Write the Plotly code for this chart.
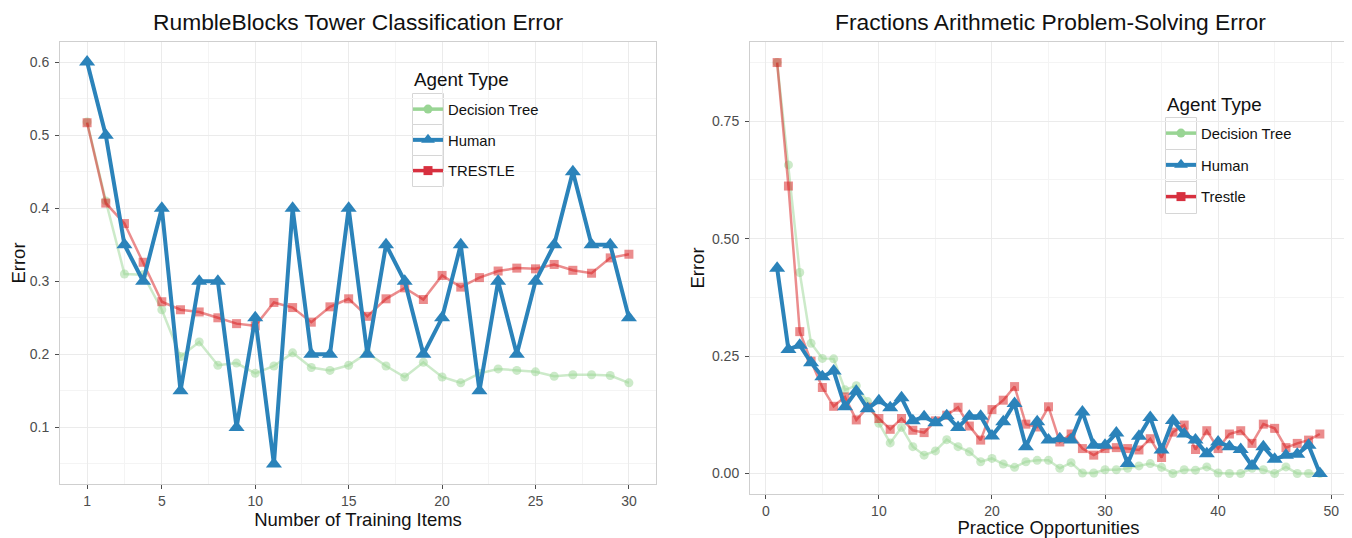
import plotly.graph_objects as go

# ---------------- data: RumbleBlocks (left) ----------------
rb_items = list(range(1, 31))
rb_decision_tree = [0.518, 0.410, 0.310, 0.309, 0.261, 0.197, 0.217, 0.185, 0.188, 0.174,
                    0.184, 0.202, 0.182, 0.178, 0.185, 0.202, 0.184, 0.169, 0.189, 0.169,
                    0.161, 0.174, 0.180, 0.178, 0.176, 0.170, 0.172, 0.172, 0.171, 0.161]
rb_human = [0.60, 0.50, 0.35, 0.30, 0.40, 0.15, 0.30, 0.30, 0.10, 0.25,
            0.05, 0.40, 0.20, 0.20, 0.40, 0.20, 0.35, 0.30, 0.20, 0.25,
            0.35, 0.15, 0.30, 0.20, 0.30, 0.35, 0.45, 0.35, 0.35, 0.25]
rb_trestle = [0.517, 0.407, 0.379, 0.326, 0.272, 0.261, 0.258, 0.250, 0.242, 0.239,
              0.271, 0.264, 0.244, 0.265, 0.276, 0.252, 0.276, 0.291, 0.275, 0.308,
              0.292, 0.305, 0.314, 0.318, 0.317, 0.323, 0.315, 0.311, 0.332, 0.337]

# ---------------- data: Fractions (right) ----------------
fr_opps = list(range(1, 50))
fr_decision_tree = [0.875, 0.657, 0.428, 0.277, 0.245, 0.244, 0.178, 0.187, 0.153, 0.107,
                    0.065, 0.098, 0.057, 0.039, 0.048, 0.072, 0.057, 0.046, 0.025, 0.032,
                    0.020, 0.013, 0.025, 0.028, 0.028, 0.011, 0.023, 0.001, 0.001, 0.008,
                    0.008, 0.011, 0.016, 0.021, 0.013, 0.000, 0.008, 0.007, 0.014, 0.001,
                    0.000, 0.000, 0.011, 0.008, 0.000, 0.014, 0.000, 0.000, 0.000]
fr_human = [0.437, 0.264, 0.273, 0.236, 0.206, 0.218, 0.142, 0.175, 0.138, 0.155,
            0.140, 0.161, 0.112, 0.121, 0.108, 0.123, 0.098, 0.122, 0.122, 0.080,
            0.110, 0.149, 0.057, 0.110, 0.071, 0.074, 0.071, 0.131, 0.060, 0.060,
            0.086, 0.021, 0.079, 0.119, 0.050, 0.113, 0.084, 0.071, 0.042, 0.067,
            0.057, 0.051, 0.016, 0.057, 0.030, 0.039, 0.041, 0.060, 0.000]
fr_trestle = [0.875, 0.612, 0.302, 0.239, 0.183, 0.143, 0.163, 0.114, 0.141, 0.117,
              0.094, 0.117, 0.092, 0.087, 0.112, 0.124, 0.141, 0.101, 0.071, 0.136,
              0.156, 0.185, 0.105, 0.099, 0.142, 0.067, 0.084, 0.053, 0.039, 0.053,
              0.055, 0.053, 0.050, 0.074, 0.034, 0.088, 0.103, 0.051, 0.091, 0.053,
              0.084, 0.091, 0.064, 0.105, 0.096, 0.055, 0.064, 0.071, 0.084]

# ---------------- ticks / labels ----------------
left_xticks = [1, 5, 10, 15, 20, 25, 30]
left_xminor = [3, 7.5, 12.5, 17.5, 22.5, 27.5]
left_yticks = [0.1, 0.2, 0.3, 0.4, 0.5, 0.6]
left_yminor = [0.05, 0.15, 0.25, 0.35, 0.45, 0.55]
right_xticks = [0, 10, 20, 30, 40, 50]
right_xminor = [5, 15, 25, 35, 45]
right_yticks = [0.0, 0.25, 0.5, 0.75]
right_yminor = [0.125, 0.375, 0.625, 0.875]

left_names = ["Decision Tree", "Human", "TRESTLE"]
right_names = ["Decision Tree", "Human", "Trestle"]
legend_title = "Agent Type"
left_title = "RumbleBlocks Tower Classification Error"
right_title = "Fractions Arithmetic Problem-Solving Error"

# ---------------- styles ----------------
PAGE_W, PAGE_H = 1352, 538
OFF = 8  # default page margin around the plot div
W, H = PAGE_W - OFF, PAGE_H - OFF
FONT = "Liberation Sans, Arial, Helvetica, sans-serif"
BLUE = "#2b83ba"
RED_A = "rgba(215,25,28,0.5)"
GREEN_A = "rgba(153,213,148,0.5)"
RED = "#d7303f"
GREEN = "#99d594"
GRID = "#ebebeb"
MINOR = "#f4f4f4"
BORDER = "#cfcfcf"
KEYBOX = "#d6d6d6"
TXT = "#111111"


def px_x(p):
    return (p - OFF) / W


def px_y(p):
    return 1 - (p - OFF) / H


fig = go.Figure()


def add_series(x, y, color, symbol, msize, lwidth, xa, ya):
    fig.add_trace(go.Scatter(
        x=x, y=y, mode="lines+markers", xaxis=xa, yaxis=ya, showlegend=False,
        line=dict(color=color, width=lwidth),
        marker=dict(color=color, symbol=symbol, size=msize, line=dict(width=0)),
        hoverinfo="skip"))


# left panel
add_series(rb_items, rb_decision_tree, GREEN_A, "circle", 9, 2.5, "x", "y")
add_series(rb_items, rb_trestle, RED_A, "square", 9, 2.5, "x", "y")
add_series(rb_items, rb_human, BLUE, "triangle-up", 14, 4, "x", "y")
# right panel
add_series(fr_opps, fr_decision_tree, GREEN_A, "circle", 9, 2.5, "x2", "y2")
add_series(fr_opps, fr_trestle, RED_A, "square", 9, 2.5, "x2", "y2")
add_series(fr_opps, fr_human, BLUE, "triangle-up", 14, 4, "x2", "y2")

# legend entries (full-opacity keys like ggplot)
key_styles = [(GREEN, "circle", 9, 3.5), (BLUE, "triangle-up", 12, 4), (RED, "square", 9, 3.5)]
for names, lg, xa, ya in [(left_names, "legend", "x", "y"), (right_names, "legend2", "x2", "y2")]:
    for i, (nm, (c, s, ms, lw)) in enumerate(zip(names, key_styles)):
        fig.add_trace(go.Scatter(
            x=[None], y=[None], name=nm, mode="lines+markers", legend=lg,
            legendgroup=lg + str(i), xaxis=xa, yaxis=ya,
            line=dict(color=c, width=lw), marker=dict(color=c, symbol=s, size=ms)))


def axis_common():
    return dict(showline=True, linecolor=BORDER, linewidth=1, mirror=True,
                showgrid=True, gridcolor=GRID, gridwidth=1, zeroline=False,
                automargin=False,
                ticks="outside", ticklen=4, tickcolor="#4d4d4d", tickwidth=1,
                tickfont=dict(family=FONT, size=14, color="#4d4d4d"))


TITLE_FONT = dict(family=FONT, size=18.5, color=TXT)

xa1 = axis_common()
xa1.update(domain=[px_x(60), px_x(656)], range=[-0.45, 31.45], tickmode="array",
           tickvals=left_xticks, anchor="y",
           minor=dict(tickmode="array", tickvals=left_xminor, showgrid=True,
                      gridcolor=MINOR, ticks=""),
           title=dict(text="Number of Training Items", standoff=4, font=TITLE_FONT))
ya1 = axis_common()
ya1.update(domain=[px_y(484), px_y(42)], range=[0.0225, 0.6275], tickmode="array",
           tickvals=left_yticks, tickformat=".1f", anchor="x", ticklabelstandoff=3,
           minor=dict(tickmode="array", tickvals=left_yminor, showgrid=True,
                      gridcolor=MINOR, ticks=""),
           title=dict(text="Error", standoff=4, font=TITLE_FONT))
xa2 = axis_common()
xa2.update(domain=[px_x(750), px_x(1347)], range=[-1.4, 51.4], tickmode="array",
           tickvals=right_xticks, anchor="y2",
           minor=dict(tickmode="array", tickvals=right_xminor, showgrid=True,
                      gridcolor=MINOR, ticks=""),
           title=dict(text="Practice Opportunities", standoff=2, font=TITLE_FONT))
ya2 = axis_common()
ya2.update(domain=[px_y(494), px_y(42)], range=[-0.04375, 0.91875], tickmode="array",
           tickvals=right_yticks, tickformat=".2f", anchor="x2", ticklabelstandoff=3,
           minor=dict(tickmode="array", tickvals=right_yminor, showgrid=True,
                      gridcolor=MINOR, ticks=""),
           title=dict(text="Error", standoff=2, font=TITLE_FONT))

legend_common = dict(xanchor="left", yanchor="top", bgcolor="rgba(255,255,255,0)",
                     font=dict(family=FONT, size=14.8, color=TXT), itemwidth=30)
lg1 = dict(legend_common, x=px_x(408), y=px_y(93), tracegroupgap=8.5)
lg2 = dict(legend_common, x=px_x(1161), y=px_y(117), tracegroupgap=9.5)

# ggplot-style key boxes
shapes = []
for (x0, x1, y0, step) in [(412.5, 443.5, 93.5, 31), (1165.5, 1196.5, 117.5, 32)]:
    for k in range(3):
        shapes.append(dict(type="rect", xref="paper", yref="paper", layer="below",
                           x0=px_x(x0), x1=px_x(x1),
                           y0=px_y(y0 + step * k), y1=px_y(y0 + step * (k + 1)),
                           line=dict(color=KEYBOX, width=1), fillcolor="white"))

annotations = [
    dict(text=left_title, xref="paper", yref="paper",
         x=px_x(358), y=px_y(22), xanchor="center", yanchor="middle", showarrow=False,
         font=dict(family=FONT, size=22.8, color=TXT)),
    dict(text=right_title, xref="paper", yref="paper",
         x=px_x(1050), y=px_y(22), xanchor="center", yanchor="middle", showarrow=False,
         font=dict(family=FONT, size=22.8, color=TXT)),
    dict(text=legend_title, xref="paper", yref="paper",
         x=px_x(412), y=px_y(80), xanchor="left", yanchor="middle", showarrow=False,
         font=dict(family=FONT, size=18.8, color=TXT)),
    dict(text=legend_title, xref="paper", yref="paper",
         x=px_x(1165), y=px_y(105), xanchor="left", yanchor="middle", showarrow=False,
         font=dict(family=FONT, size=18.8, color=TXT)),
]

fig.update_layout(
    width=W, height=H, autosize=False,
    margin=dict(l=0, r=0, t=0, b=0, autoexpand=False),
    paper_bgcolor="white", plot_bgcolor="white",
    font=dict(family=FONT),
    xaxis=xa1, yaxis=ya1, xaxis2=xa2, yaxis2=ya2,
    legend=lg1, legend2=lg2,
    shapes=shapes,
    annotations=annotations,
)

fig.write_html("out.html")
